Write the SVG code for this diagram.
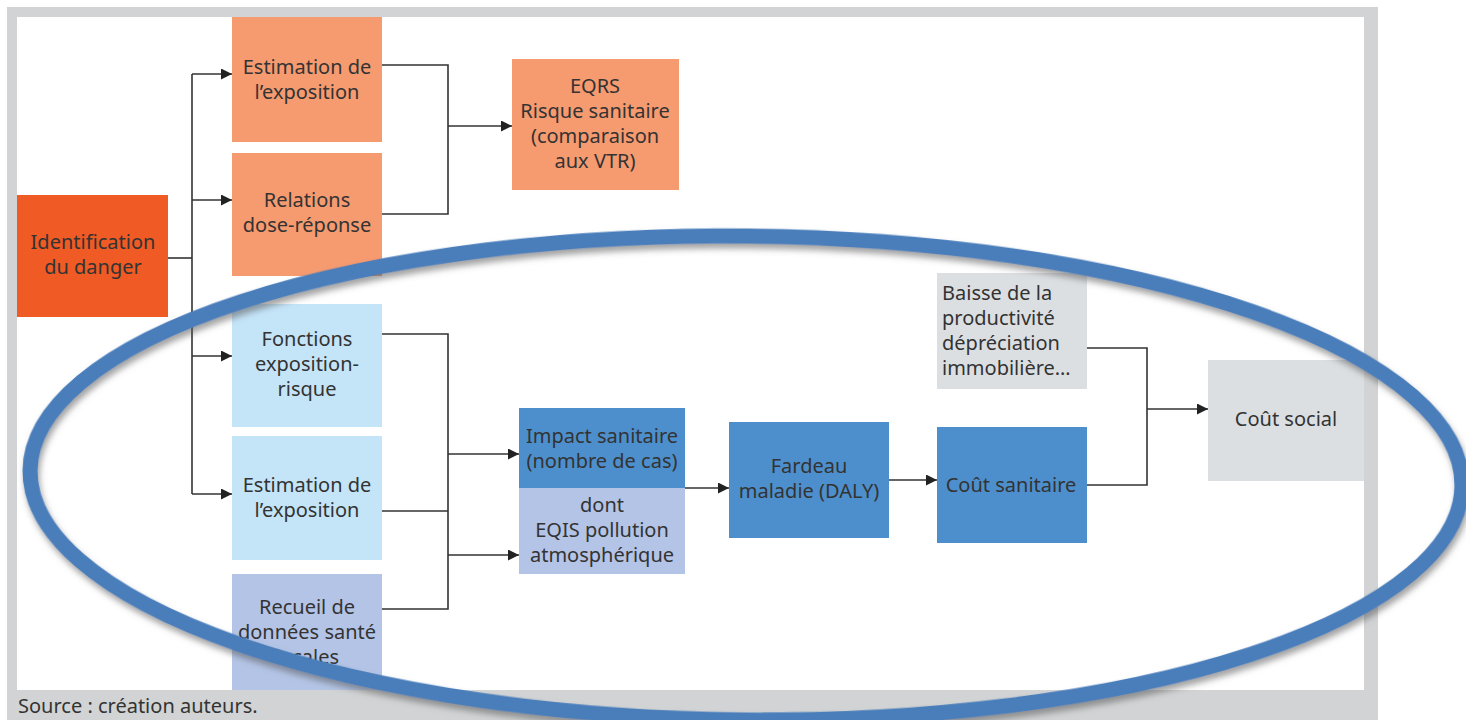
<svg xmlns="http://www.w3.org/2000/svg" width="1466" height="720" viewBox="0 0 1466 720">
  <defs>
    <style>
      .lbl { font-family: "Noto Sans", "Open Sans", sans-serif; font-size: 20px; fill: #333333; text-anchor: middle; }
      .left { text-anchor: start; }
      .wire { fill: none; stroke: #333; stroke-width: 1.6; }
      .danger { fill: #F05A24; }
      .peach { fill: #F69A70; }
      .sky { fill: #C4E4F8; }
      .lav { fill: #B3C4E6; }
      .blue { fill: #4D8FCC; }
      .grey { fill: #DCDFE2; }
    </style>
    <marker id="arrow" viewBox="0 0 10 10" refX="10" refY="5" markerWidth="11" markerHeight="11" markerUnits="userSpaceOnUse" orient="auto">
      <path d="M0,0 L10,5 L0,10 Z" fill="#222"/>
    </marker>
    <filter id="shade" x="-10%" y="-10%" width="120%" height="130%">
      <feDropShadow dx="2" dy="5" stdDeviation="3" flood-color="#555" flood-opacity="0.55"/>
    </filter>
  </defs>

  <!-- page background and frame -->
  <rect x="0" y="0" width="1466" height="720" fill="#ffffff"/>
  <rect x="7" y="7" width="1371" height="713" fill="#D1D3D4"/>
  <rect x="17" y="17" width="1347" height="673" fill="#ffffff"/>
  <text class="lbl left" x="18" y="713">Source : création auteurs.</text>

  <!-- connectors -->
  <g id="connectors">
    <path class="wire" d="M168,258 H192"/>
    <path class="wire" d="M192,74 V494"/>
    <path class="wire" d="M192,74 H232" marker-end="url(#arrow)"/>
    <path class="wire" d="M192,200 H232" marker-end="url(#arrow)"/>
    <path class="wire" d="M192,356 H232" marker-end="url(#arrow)"/>
    <path class="wire" d="M192,494 H232" marker-end="url(#arrow)"/>

    <path class="wire" d="M382,65 H448 V214 H382"/>
    <path class="wire" d="M448,126 H512" marker-end="url(#arrow)"/>

    <path class="wire" d="M382,334 H448 V609 H382"/>
    <path class="wire" d="M382,511 H448"/>
    <path class="wire" d="M448,454 H519" marker-end="url(#arrow)"/>
    <path class="wire" d="M448,555 H519" marker-end="url(#arrow)"/>

    <path class="wire" d="M685,488 H729" marker-end="url(#arrow)"/>
    <path class="wire" d="M889,480 H937" marker-end="url(#arrow)"/>

    <path class="wire" d="M1087,348 H1147 V485 H1087"/>
    <path class="wire" d="M1147,409 H1208" marker-end="url(#arrow)"/>
  </g>

  <!-- nodes -->
  <g id="identification">
    <rect class="danger" x="17" y="195" width="151" height="122"/>
    <text class="lbl" x="93" y="249">Identification</text>
    <text class="lbl" x="93" y="274">du danger</text>
  </g>
  <g id="estimation-exposition-eqrs">
    <rect class="peach" x="232" y="17" width="150" height="125"/>
    <text class="lbl" x="307" y="74">Estimation de</text>
    <text class="lbl" x="307" y="99">l’exposition</text>
  </g>
  <g id="relations-dose-reponse">
    <rect class="peach" x="232" y="153" width="150" height="123"/>
    <text class="lbl" x="307" y="207">Relations</text>
    <text class="lbl" x="307" y="232">dose-réponse</text>
  </g>
  <g id="eqrs">
    <rect class="peach" x="512" y="59" width="167" height="131"/>
    <text class="lbl" x="595" y="93">EQRS</text>
    <text class="lbl" x="595" y="118">Risque sanitaire</text>
    <text class="lbl" x="595" y="143">(comparaison</text>
    <text class="lbl" x="595" y="168">aux VTR)</text>
  </g>
  <g id="fonctions-exposition-risque">
    <rect class="sky" x="232" y="304" width="150" height="123"/>
    <text class="lbl" x="307" y="346">Fonctions</text>
    <text class="lbl" x="307" y="371">exposition-</text>
    <text class="lbl" x="307" y="396">risque</text>
  </g>
  <g id="estimation-exposition-eqis">
    <rect class="sky" x="232" y="436" width="150" height="124"/>
    <text class="lbl" x="307" y="492">Estimation de</text>
    <text class="lbl" x="307" y="517">l’exposition</text>
  </g>
  <g id="recueil-donnees">
    <rect class="lav" x="232" y="574" width="150" height="116"/>
    <text class="lbl" x="307" y="614">Recueil de</text>
    <text class="lbl" x="307" y="639">données santé</text>
    <text class="lbl" x="307" y="664">locales</text>
  </g>
  <g id="impact-sanitaire">
    <rect class="blue" x="519" y="408" width="166" height="80"/>
    <text class="lbl" x="602" y="443">Impact sanitaire</text>
    <text class="lbl" x="602" y="468">(nombre de cas)</text>
  </g>
  <g id="eqis-pollution">
    <rect class="lav" x="519" y="488" width="166" height="86"/>
    <text class="lbl" x="602" y="512">dont</text>
    <text class="lbl" x="602" y="537">EQIS pollution</text>
    <text class="lbl" x="602" y="562">atmosphérique</text>
  </g>
  <g id="fardeau-maladie">
    <rect class="blue" x="729" y="422" width="160" height="116"/>
    <text class="lbl" x="809" y="473">Fardeau</text>
    <text class="lbl" x="809" y="498">maladie (DALY)</text>
  </g>
  <g id="baisse-productivite">
    <rect class="grey" x="937" y="273" width="150" height="116"/>
    <text class="lbl left" x="942" y="300">Baisse de la</text>
    <text class="lbl left" x="942" y="325">productivité</text>
    <text class="lbl left" x="942" y="350">dépréciation</text>
    <text class="lbl left" x="942" y="375">immobilière…</text>
  </g>
  <g id="cout-sanitaire">
    <rect class="blue" x="937" y="427" width="150" height="116"/>
    <text class="lbl" x="1011" y="492">Coût sanitaire</text>
  </g>
  <g id="cout-social">
    <rect class="grey" x="1208" y="360" width="156" height="121"/>
    <text class="lbl" x="1286" y="426">Coût social</text>
  </g>

  <!-- highlight ring around the EQIS branch -->
  <ellipse cx="746" cy="478" rx="716" ry="242" transform="rotate(0.6 746 478)" fill="none" stroke="#4A7EBB" stroke-width="15" filter="url(#shade)"/>
</svg>
